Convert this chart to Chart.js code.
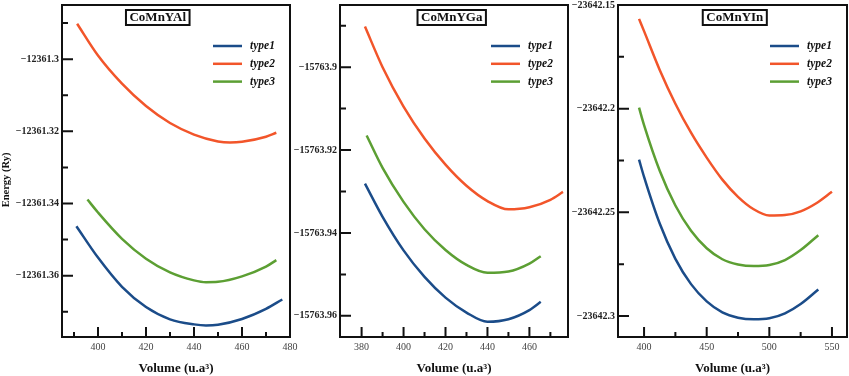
<!DOCTYPE html>
<html>
<head>
<meta charset="utf-8">
<script src="https://cdn.jsdelivr.net/npm/chart.js@4.4.1/dist/chart.umd.min.js"></script>
<style>
  html, body { margin: 0; padding: 0; background: #fff; }
  #wrap { position: relative; width: 849px; height: 376px; overflow: hidden; }
  #wrap canvas { position: absolute; top: 0; }
</style>
</head>
<body>
<div id="wrap">
  <canvas id="c1" width="300" height="376" style="left:0px"></canvas>
  <canvas id="c2" width="294" height="376" style="left:280px"></canvas>
  <canvas id="c3" width="291" height="376" style="left:558px"></canvas>
</div>
<script>
// ── Data ────────────────────────────────────────────────────────────────────
const seriesNames = ['type1', 'type2', 'type3'];

// CoMnYAl
const alVol1  = [391.0, 400, 410, 420, 430, 440, 445, 450, 460, 470, 476.8];
const alType1 = [-12361.3463, -12361.3550, -12361.3631, -12361.3687, -12361.3721, -12361.3735,
                 -12361.3738, -12361.3736, -12361.3720, -12361.3692, -12361.3666];
const alVol2  = [391.3, 400, 410, 420, 430, 440, 450, 455, 460, 470, 474.3];
const alType2 = [-12361.2902, -12361.2990, -12361.3068, -12361.3130, -12361.3177, -12361.3209,
                 -12361.3228, -12361.3231, -12361.3229, -12361.3215, -12361.3204];
const alVol3  = [395.6, 400, 410, 420, 430, 440, 445, 450, 460, 470, 474.3];
const alType3 = [-12361.3389, -12361.3425, -12361.3498, -12361.3553, -12361.3591, -12361.3613,
                 -12361.3618, -12361.3617, -12361.3602, -12361.3575, -12361.3557];
const alXTicks = [400, 420, 440, 460, 480];
const alXMinor = [390, 410, 430, 450, 470];
const alYTicks = [-12361.3, -12361.32, -12361.34, -12361.36];
const alYMinor = [-12361.29, -12361.31, -12361.33, -12361.35, -12361.37];

// CoMnYGa
const gaVol1  = [381.6, 390, 400, 410, 420, 430, 440, 450, 460, 465.4];
const gaType1 = [-15763.9281, -15763.9361, -15763.9442, -15763.9506, -15763.9556, -15763.9592,
                 -15763.9614, -15763.9608, -15763.9586, -15763.9566];
const gaVol2  = [381.6, 390, 400, 410, 420, 430, 440, 450, 460, 470, 476];
const gaType2 = [-15763.8902, -15763.9000, -15763.9095, -15763.9172, -15763.9235, -15763.9286,
                 -15763.9323, -15763.9343, -15763.9338, -15763.9320, -15763.9301];
const gaVol3  = [382.4, 390, 400, 410, 420, 430, 440, 450, 460, 465.4];
const gaType3 = [-15763.9165, -15763.9243, -15763.9325, -15763.9391, -15763.9441, -15763.9477,
                 -15763.9496, -15763.9493, -15763.9474, -15763.9456];
const gaXTicks = [380, 400, 420, 440, 460];
const gaXMinor = [390, 410, 430, 450, 470];
const gaYTicks = [-15763.9, -15763.92, -15763.94, -15763.96];
const gaYMinor = [-15763.89, -15763.91, -15763.93, -15763.95];

// CoMnYIn
const inVol   = [396.0, 400, 412.5, 425, 437.5, 450, 462.5, 475, 487.5, 500, 512.5, 525, 539.1];
const inType1 = [-23642.2246, -23642.2329, -23642.2554, -23642.2724, -23642.2846, -23642.2929,
                 -23642.2982, -23642.3008, -23642.3016, -23642.3011, -23642.2987, -23642.2942, -23642.2872];
const inVol2  = [396.0, 400, 412.5, 425, 437.5, 450, 462.5, 475, 487.5, 500, 512.5, 525, 537.5, 550];
const inType2 = [-23642.1567, -23642.1626, -23642.1813, -23642.1976, -23642.2116, -23642.2236,
                 -23642.2342, -23642.2425, -23642.2485, -23642.2515, -23642.2513, -23642.2495,
                 -23642.2456, -23642.2401];
const inType3 = [-23642.1995, -23642.2079, -23642.2299, -23642.2467, -23642.2589, -23642.2673,
                 -23642.2726, -23642.2751, -23642.2759, -23642.2754, -23642.2730, -23642.2682, -23642.2610];
const inXTicks = [400, 450, 500, 550];
const inXMinor = [425, 475, 525];
const inYTicks = [-23642.15, -23642.2, -23642.25, -23642.3];
const inYMinor = [-23642.175, -23642.225, -23642.275];

// ── Styling ────────────────────────────────────────────────────────────────
const FONT = '"Liberation Serif", "Times New Roman", serif';
const INK = '#111';
const COLORS = ['#1b4c89', '#f2552a', '#5c9f33'];

const fmtTick = v => String(+v.toFixed(3)).replace('-', '\u2212');

// Frame, inward ticks, boxed title and in-plot legend
const framePlugin = {
  id: 'frame',
  afterDatasetsDraw(chart, args, o) {
    const { ctx, chartArea: a, scales: { x, y } } = chart;
    ctx.save();
    ctx.strokeStyle = INK;
    ctx.lineWidth = 2;
    ctx.lineCap = 'butt';

    ctx.beginPath();
    o.xMajor.forEach(v => { const p = x.getPixelForValue(v); ctx.moveTo(p, a.bottom); ctx.lineTo(p, a.bottom - 10); });
    o.xMinor.forEach(v => { const p = x.getPixelForValue(v); ctx.moveTo(p, a.bottom); ctx.lineTo(p, a.bottom - 5); });
    o.yMajor.forEach(v => { const p = y.getPixelForValue(v); ctx.moveTo(a.left, p); ctx.lineTo(a.left + 11, p); });
    o.yMinor.forEach(v => { const p = y.getPixelForValue(v); ctx.moveTo(a.left, p); ctx.lineTo(a.left + 6, p); });
    ctx.stroke();

    ctx.strokeRect(a.left, a.top, a.right - a.left, a.bottom - a.top);

    // boxed compound name
    ctx.font = 'bold 13px ' + FONT;
    ctx.textAlign = 'center';
    ctx.textBaseline = 'middle';
    const cx = a.left + o.titleAt * (a.right - a.left);
    const tw = ctx.measureText(o.title).width + 7;
    ctx.fillStyle = '#fff';
    ctx.fillRect(cx - tw / 2, a.top + 5, tw, 15);
    ctx.strokeRect(cx - tw / 2, a.top + 5, tw, 15);
    ctx.fillStyle = INK;
    ctx.fillText(o.title, cx, a.top + 13);

    // legend
    ctx.font = 'italic bold 11.5px ' + FONT;
    ctx.textAlign = 'left';
    ctx.lineWidth = 2.5;
    chart.data.datasets.forEach((ds, i) => {
      const ly = a.top + 41 + i * 17.8;
      ctx.strokeStyle = ds.borderColor;
      ctx.beginPath();
      ctx.moveTo(a.right - 77, ly);
      ctx.lineTo(a.right - 48, ly);
      ctx.stroke();
      ctx.fillStyle = INK;
      ctx.fillText(ds.label, a.right - 40, ly + 0.5);
    });

    // y axis title (first panel only)
    if (o.yTitle) {
      ctx.font = 'bold 10.5px ' + FONT;
      ctx.textAlign = 'center';
      ctx.translate(6, 180);
      ctx.rotate(-Math.PI / 2);
      ctx.fillText(o.yTitle, 0, 0);
    }
    ctx.restore();
  }
};

function pts(xs, ys) {
  return xs.map((v, i) => ({ x: v, y: ys[i] }));
}

function makePanel(id, p) {
  new Chart(document.getElementById(id), {
    type: 'line',
    data: {
      datasets: p.series.map((s, i) => ({
        label: seriesNames[i],
        data: pts(s[0], s[1]),
        borderColor: COLORS[i],
        borderWidth: 2.5,
        pointRadius: 0,
        fill: false,
        cubicInterpolationMode: 'monotone'
      }))
    },
    options: {
      responsive: false,
      animation: false,
      devicePixelRatio: 1,
      layout: { padding: { top: 5, right: p.padRight, left: 0, bottom: 0 } },
      plugins: {
        legend: { display: false },
        tooltip: { enabled: false },
        frame: {
          title: p.title, titleAt: p.titleAt, yTitle: p.yTitle,
          xMajor: p.xTicks, xMinor: p.xMinor, yMajor: p.yTicks, yMinor: p.yMinor
        }
      },
      scales: {
        x: {
          type: 'linear',
          min: p.xMin, max: p.xMax,
          grid: { display: false, drawTicks: false },
          border: { display: false },
          afterBuildTicks: s => { s.ticks = p.xTicks.map(v => ({ value: v })); },
          afterFit: s => { s.height = 39; s.paddingLeft = 0; s.paddingRight = 0; },
          ticks: {
            autoSkip: false, maxRotation: 0, padding: 4, color: '#444',
            font: { family: FONT, size: 10 }
          },
          title: {
            display: true, text: 'Volume (u.a\u00b3)', color: INK,
            padding: { top: 0, bottom: 0 },
            font: { family: FONT, size: 13, weight: 'bold' }
          }
        },
        y: {
          min: p.yMin, max: p.yMax,
          grid: { display: false, drawTicks: false },
          border: { display: false },
          afterBuildTicks: s => { s.ticks = p.yTicks.map(v => ({ value: v })); },
          afterFit: s => { s.width = p.axisWidth; s.paddingTop = 0; s.paddingBottom = 0; },
          ticks: {
            autoSkip: false, padding: 3, color: '#222',
            font: { family: FONT, size: 10, weight: 'bold' },
            callback: v => fmtTick(v)
          }
        }
      }
    },
    plugins: [framePlugin]
  });
}

makePanel('c1', {
  title: 'CoMnYAl', titleAt: 0.42, yTitle: 'Energy (Ry)',
  series: [[alVol1, alType1], [alVol2, alType2], [alVol3, alType3]],
  xMin: 385, xMax: 480, yMin: -12361.377, yMax: -12361.285,
  xTicks: alXTicks, xMinor: alXMinor, yTicks: alYTicks, yMinor: alYMinor,
  axisWidth: 62, padRight: 10
});

makePanel('c2', {
  title: 'CoMnYGa', titleAt: 0.49,
  series: [[gaVol1, gaType1], [gaVol2, gaType2], [gaVol3, gaType3]],
  xMin: 369.7, xMax: 478.4, yMin: -15763.9651, yMax: -15763.885,
  xTicks: gaXTicks, xMinor: gaXMinor, yTicks: gaYTicks, yMinor: gaYMinor,
  axisWidth: 60, padRight: 6
});

makePanel('c3', {
  title: 'CoMnYIn', titleAt: 0.51,
  series: [[inVol, inType1], [inVol2, inType2], [inVol, inType3]],
  xMin: 379.2, xMax: 562, yMin: -23642.3101, yMax: -23642.15,
  xTicks: inXTicks, xMinor: inXMinor, yTicks: inYTicks, yMinor: inYMinor,
  axisWidth: 60, padRight: 2
});
</script>
</body>
</html>
